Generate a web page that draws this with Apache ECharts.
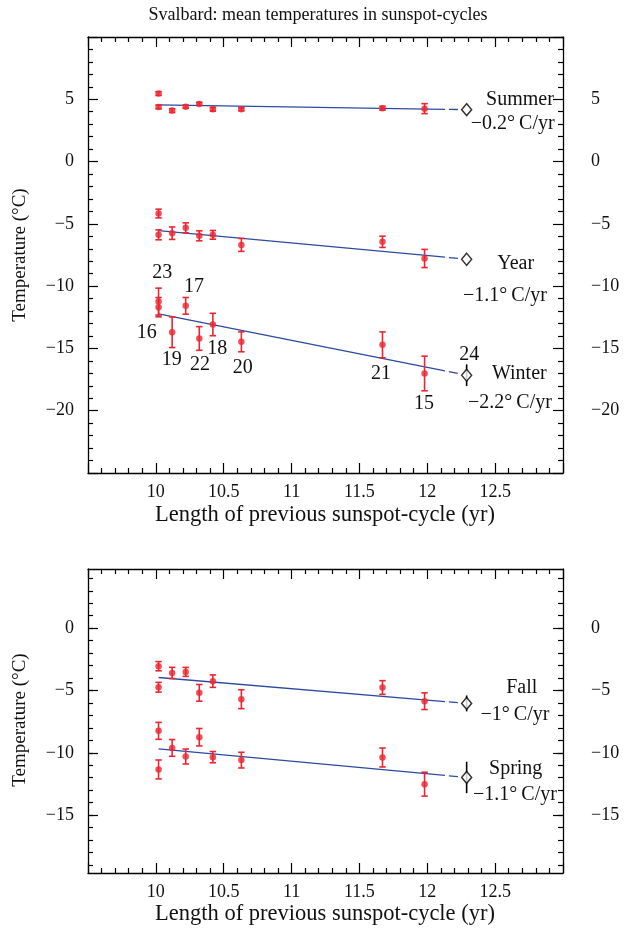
<!DOCTYPE html>
<html><head><meta charset="utf-8">
<script src="https://cdn.jsdelivr.net/npm/echarts@6/dist/echarts.min.js"></script>
<style>html,body{margin:0;padding:0;background:#fff}#c{width:627px;height:932px}</style>
</head><body><div id="c"></div>
<script>
// ---------- data ----------
const cycles = ['23','16','19','17','22','18','20','21','15'];
const cycleLength = [10.02, 10.02, 10.12, 10.22, 10.32, 10.42, 10.63, 11.67, 11.98];
const summerT   = [5.46, 4.39, 4.09, 4.41, 4.63, 4.20, 4.20, 4.28, 4.25];
const summerErr = [0.15, 0.15, 0.15, 0.12, 0.12, 0.15, 0.12, 0.15, 0.40];
const yearT     = [-4.17, -5.88, -5.75, -5.32, -5.96, -5.88, -6.69, -6.44, -7.78];
const yearErr   = [0.35, 0.40, 0.50, 0.40, 0.40, 0.35, 0.52, 0.45, 0.73];
const winterT   = [-11.24, -11.69, -13.70, -11.58, -14.20, -13.08, -14.47, -14.71, -17.01];
const winterErr = [1.08, 0.77, 1.23, 0.67, 0.95, 0.90, 0.80, 1.04, 1.39];
const fallT     = [-3.05, -4.74, -3.59, -3.51, -5.19, -4.25, -5.70, -4.76, -5.86];
const fallErr   = [0.37, 0.39, 0.45, 0.36, 0.67, 0.50, 0.76, 0.55, 0.67];
const springT   = [-8.24, -11.34, -9.61, -10.30, -8.75, -10.35, -10.59, -10.38, -12.52];
const springErr = [0.68, 0.76, 0.67, 0.60, 0.70, 0.45, 0.63, 0.76, 0.96];

const predCycle = '24';
const predLength = 12.29;
const seasonNames = ['Summer', 'Year', 'Winter', 'Fall', 'Spring'];
const trendText   = ['−0.2', '−1.1', '−2.2', '−1', '−1.1'];
const predTemp    = [4.17, -7.84, -17.15, -6.04, -11.98];
const predErr     = [0, 0, 0.87, 0.64, 1.26];
const fitStartX   = 10.02;
const fitAtStart  = [4.55, -5.54, -12.22, -3.96, -9.69];
const fitSolidEnd = 12.13;

const xTicks = [10, 10.5, 11, 11.5, 12, 12.5];
const topYTicks = [5, 0, -5, -10, -15, -20];
const botYTicks = [0, -5, -10, -15];
const botYMinor = [-19,-18,-17,-16,-15,-14,-13,-12,-11,-10,-9,-8,-7,-6,-5,-4,-3,-2,-1,0,1,2,3,4];

// ---------- style / layout ----------
const FONT = "'Liberation Serif','DejaVu Serif',serif";
const RED = '#ec2530', BLUE = '#2c4a9f', INK = '#111';
const fmt = v => (v < 0 ? '\u2212' + Math.abs(v) : String(v));

const seasonSets = [
  {t: summerT, e: summerErr, g: 0},
  {t: yearT,   e: yearErr,   g: 0},
  {t: winterT, e: winterErr, g: 0},
  {t: fallT,   e: fallErr,   g: 1},
  {t: springT, e: springErr, g: 1}
];

function errRender(color, cap) {
  return function (params, api) {
    const x = api.value(0), lo = api.value(1), hi = api.value(2);
    const p1 = api.coord([x, hi]), p2 = api.coord([x, lo]);
    const st = {stroke: color, lineWidth: 1.6};
    const ch = [{type: 'line', shape: {x1: p1[0], y1: p1[1], x2: p2[0], y2: p2[1]}, style: st}];
    if (cap) {
      ch.push({type: 'line', shape: {x1: p1[0]-3.2, y1: p1[1], x2: p1[0]+3.2, y2: p1[1]}, style: st});
      ch.push({type: 'line', shape: {x1: p2[0]-3.2, y1: p2[1], x2: p2[0]+3.2, y2: p2[1]}, style: st});
    }
    return {type: 'group', children: ch};
  };
}

const series = [];
seasonSets.forEach((s, k) => {
  const xi = s.g === 0 ? 0 : 2, yi = s.g === 0 ? 0 : 2;
  const predX = predLength;
  const fitEnd = predTemp[k];
  const fitMid = fitAtStart[k] + (fitEnd - fitAtStart[k]) * (fitSolidEnd - fitStartX) / (predX - fitStartX);
  series.push({type: 'line', xAxisIndex: xi, yAxisIndex: yi, data: [[fitStartX, fitAtStart[k]], [fitSolidEnd, fitMid]],
    symbol: 'none', lineStyle: {color: BLUE, width: 1.3}, z: 2, silent: true});
  series.push({type: 'line', xAxisIndex: xi, yAxisIndex: yi, data: [[fitSolidEnd, fitMid], [predX, fitEnd]],
    symbol: 'none', lineStyle: {color: BLUE, width: 1.3, type: [0, 4, 9, 60]}, z: 2, silent: true});
  series.push({type: 'custom', xAxisIndex: xi, yAxisIndex: yi, renderItem: errRender(RED, true),
    encode: {x: 0, y: [1, 2]}, z: 3, silent: true,
    data: cycleLength.map((x, i) => [x, s.t[i] - s.e[i], s.t[i] + s.e[i]])});
  series.push({type: 'scatter', xAxisIndex: xi, yAxisIndex: yi, symbol: 'circle', symbolSize: 6.5,
    itemStyle: {color: RED}, z: 4, silent: true,
    data: cycleLength.map((x, i) => [x, s.t[i]])});
  if (predErr[k] > 0) {
    series.push({type: 'custom', xAxisIndex: xi, yAxisIndex: yi, renderItem: errRender('#000', false),
      encode: {x: 0, y: [1, 2]}, z: 3, silent: true,
      data: [[predX, predTemp[k] - predErr[k], predTemp[k] + predErr[k]]]});
  }
  series.push({type: 'scatter', xAxisIndex: xi, yAxisIndex: yi, symbol: 'diamond', symbolSize: [10, 12],
    itemStyle: {color: '#fff', borderColor: '#000', borderWidth: 1.5}, z: 5, silent: true,
    data: [[predX, predTemp[k]]]});
});

const axLine = {show: true, onZero: false, lineStyle: {color: '#000', width: 1.3}};
function xAx(grid, pos, labels) {
  return {type: 'value', gridIndex: grid, position: pos, min: 9.5, max: 13, interval: 0.5,
    axisLine: axLine, splitLine: {show: false},
    axisTick: {inside: true, length: 10, lineStyle: {color: '#000', width: 1.2}},
    minorTick: {show: true, splitNumber: 5, length: 5, lineStyle: {color: '#000', width: 1.2}},
    axisLabel: {show: labels, margin: 10, fontFamily: FONT, fontSize: 18, color: INK,
      formatter: v => (xTicks.indexOf(v) >= 0 ? fmt(v) : '')}};
}
function yTop(pos) {
  return {type: 'value', gridIndex: 0, position: pos, min: -25, max: 10, interval: 5,
    axisLine: axLine, splitLine: {show: false},
    axisTick: {inside: true, length: 10, lineStyle: {color: '#000', width: 1.2}},
    minorTick: {show: true, splitNumber: 5, length: 5, lineStyle: {color: '#000', width: 1.2}},
    axisLabel: {margin: pos === 'left' ? 14 : 28, align: pos === 'left' ? 'right' : 'left',
      fontFamily: FONT, fontSize: 18, color: INK,
      formatter: v => (topYTicks.indexOf(v) >= 0 ? fmt(v) : '')}};
}
const BOT_MIN = -19.65, BOT_MAX = 4.75;
function yBotMajor(pos) {
  return {type: 'value', gridIndex: 1, position: pos, min: BOT_MIN, max: BOT_MAX,
    axisLine: axLine, splitLine: {show: false},
    axisTick: {inside: true, length: 10, customValues: botYTicks, lineStyle: {color: '#000', width: 1.2}},
    axisLabel: {customValues: botYTicks, margin: pos === 'left' ? 14 : 28, align: pos === 'left' ? 'right' : 'left',
      fontFamily: FONT, fontSize: 18, color: INK, formatter: v => fmt(v)}};
}
function yBotMinor(pos) {
  return {type: 'value', gridIndex: 1, position: pos, min: BOT_MIN, max: BOT_MAX,
    axisLine: {show: false, onZero: false}, splitLine: {show: false},
    axisTick: {inside: true, length: 5, customValues: botYMinor, lineStyle: {color: '#000', width: 1.2}},
    axisLabel: {show: false}};
}

// text layout (pixel positions of annotations)
const seasonTextPos = [[520, 100], [515.7, 263.3], [519.3, 373.3], [521.7, 687.3], [515.7, 768.3]];
const trendTextPos  = [[512.7, 123.3], [505, 295.7], [510, 402.7], [515, 715], [515, 795]];
const cycleTextPos  = [[162.3, 272.7], [146.7, 332.7], [171.7, 360], [194, 286.7], [200, 365],
                       [217.3, 348.3], [242.7, 367.3], [381, 373.3], [424, 404]];
const predTextPos   = [469.3, 354.7];

const graphics = [];
function txt(s, x, y, size, rot) {
  graphics.push({type: 'text', x: x, y: y, rotation: rot || 0,
    style: {text: s, fontFamily: FONT, fontSize: size, fill: INK, align: 'center', verticalAlign: 'middle'}});
}
txt('Svalbard: mean temperatures in sunspot-cycles', 318, 15, 18);
txt('Length of previous sunspot-cycle (yr)', 325, 515, 22.5);
txt('Length of previous sunspot-cycle (yr)', 325, 914, 22.5);
txt('Temperature (\u00b0C)', 20, 255, 19, Math.PI / 2);
txt('Temperature (\u00b0C)', 20, 720, 19, Math.PI / 2);
seasonNames.forEach((n, k) => {
  txt(n, seasonTextPos[k][0], seasonTextPos[k][1], 20);
  txt(trendText[k] + '\u00b0\u2009C/yr', trendTextPos[k][0], trendTextPos[k][1], 20);
});
cycles.forEach((c, i) => txt(c, cycleTextPos[i][0], cycleTextPos[i][1], 20));
txt(predCycle, predTextPos[0], predTextPos[1], 20);

const chart = echarts.init(document.getElementById('c'), null, {renderer: 'canvas'});
chart.setOption({
  backgroundColor: '#fff',
  animation: false,
  grid: [
    {left: 88, top: 37, width: 475, height: 436},
    {left: 88, top: 569, width: 475, height: 304}
  ],
  xAxis: [xAx(0, 'bottom', true), xAx(0, 'top', false), xAx(1, 'bottom', true), xAx(1, 'top', false)],
  yAxis: [yTop('left'), yTop('right'), yBotMajor('left'), yBotMinor('left'), yBotMajor('right'), yBotMinor('right')],
  series: series,
  graphic: graphics
});
</script></body></html>
